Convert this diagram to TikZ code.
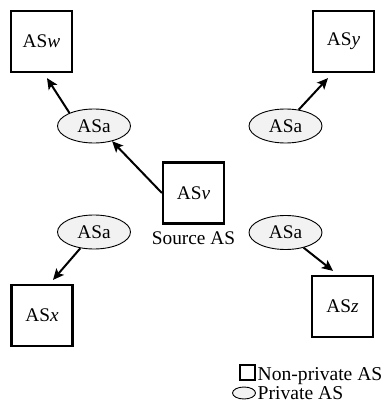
\documentclass[tikz,border=0pt]{standalone}
\usepackage{fontspec}
\setmainfont{Liberation Serif}
\usetikzlibrary{arrows.meta,shapes.geometric}
\begin{document}
\begin{tikzpicture}[x=1pt,y=-1pt,
  asbox/.style={draw, line width=2.2pt, minimum size=61pt, inner sep=0pt, font=\fontsize{19.3}{23}\selectfont},
  priv/.style={draw, ellipse, line width=0.9pt, fill=black!5, minimum width=73pt, minimum height=34pt, inner sep=0pt, font=\fontsize{19.3}{23}\selectfont},
  arr/.style={line width=2pt, -{Stealth[length=11pt,width=10pt,inset=2.5pt]}},
  lbl/.style={inner sep=0pt, font=\fontsize{19.3}{23}\selectfont},
  leg/.style={inner sep=0pt, font=\fontsize{19.6}{23}\selectfont}]
\useasboundingbox (0,0) rectangle (383,403);
\node[asbox] (w) at (41.5,41.5) {AS\textit{w}};
\node[asbox] (y) at (343.5,41.5) {AS\textit{y}};
\node[asbox] (v) at (193.5,193) {AS\textit{v}};
\node[asbox] (x) at (42,315.5) {AS\textit{x}};
\node[asbox] (z) at (342.5,306.5) {AS\textit{z}};
\node[priv] (a1) at (94,126) {ASa};
\node[priv] (a2) at (285.5,126) {ASa};
\node[priv] (a3) at (94,232) {ASa};
\node[priv] (a4) at (285.5,232.5) {ASa};
\node[lbl, anchor=base] (src) at ([yshift=-19.5pt]v.south) {Source AS};
\draw[arr] (a1.152) -- ([xshift=5.5pt,yshift=-5pt]w.south);
\draw[arr] (v.west) -- (a1.-40);
\draw[arr] (a2.51) -- ([xshift=-15.5pt,yshift=-5pt]y.south);
\draw[arr] (a3.230) -- ([xshift=11pt,yshift=4pt]x.north);
\draw[arr] (a4.320) -- ([xshift=-9.5pt,yshift=4pt]z.north);
% legend
\node[draw, line width=2pt, minimum size=15.5pt, inner sep=0pt] (lsq) at (247.5,372.5) {};
\node[leg, anchor=base west] (l1) at (257.5,380) {Non-private AS};
\node[draw, ellipse, line width=0.9pt, fill=black!5, minimum width=23pt, minimum height=12pt, inner sep=0pt] (lel) at (244,393) {};
\node[leg, anchor=base west] (l2) at (257.5,399) {Private AS};
\end{tikzpicture}
\end{document}
